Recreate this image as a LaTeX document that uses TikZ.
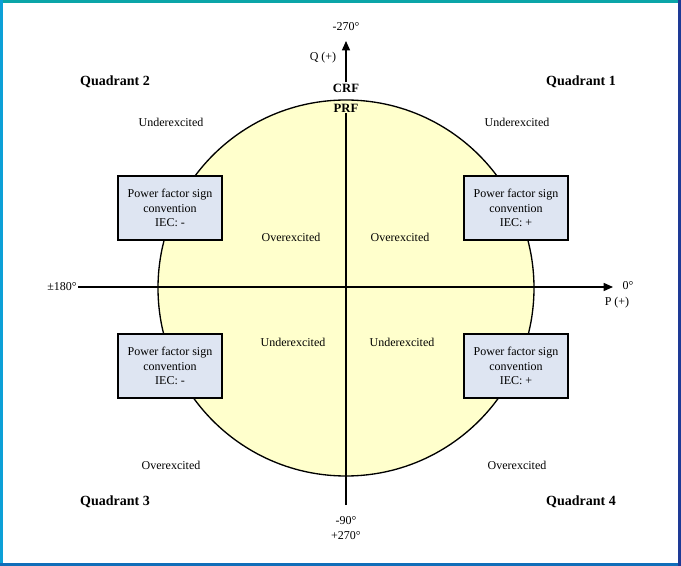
\documentclass[tikz,border=0pt]{standalone}
\usepackage{fontspec}
\setmainfont{Liberation Serif}
\usepackage{xcolor}
\usetikzlibrary{positioning, arrows.meta}

\definecolor{circfill}{RGB}{255,255,204}
\definecolor{boxfill}{RGB}{222,229,242}
\definecolor{frametop}{RGB}{10,165,168}
\definecolor{frameleft}{RGB}{12,160,215}
\definecolor{frameright}{RGB}{30,58,150}
\definecolor{framebot}{RGB}{16,110,185}

\tikzset{
  pfbox/.style={draw, fill=boxfill, line width=1pt, minimum width=104*0.75pt,
    minimum height=64*0.75pt, align=center, inner sep=1pt},
  quadlbl/.style={font=\fontsize{10.5}{12}\selectfont\bfseries},
  reflbl/.style={font=\fontsize{9.5}{11}\selectfont\bfseries},
  lbl/.style={inner sep=0.75pt, align=center},
  axis/.style={line width=1pt, -{Triangle[length=7pt, width=6pt]}}
}

\begin{document}
\begin{tikzpicture}[x=0.75pt,y=0.75pt,yscale=-1,xscale=1,font=\fontsize{9}{11}\selectfont]
\useasboundingbox (0,0) rectangle (681,566);

%Frame
\draw [frametop, line width=3pt] (0,1) -- (681,1) ;
\draw [frameleft, line width=3pt] (1,0) -- (1,566) ;
\draw [framebot, line width=3pt] (0,565) -- (681,565) ;
\draw [frameright, line width=3pt] (680,0) -- (680,566) ;

%Shape: Circle
\draw [fill=circfill, line width=1pt] (346,288) circle [radius=188] ;

%Axis ends
\coordinate (west) at (78,287) ;
\coordinate (east) at (613,287) ;
\coordinate (south) at (346,505) ;
\coordinate (north) at (346,41) ;

% Text Node
\node [lbl] (deg270) at (346,27) {-270°};
\node [lbl] (qpos) at (323,58) {Q (+)};
\node [lbl, reflbl] (crf) at (346,88) {CRF};
\node [lbl, reflbl] (prf) at (346,108) {PRF};
\node [lbl, anchor=east] (deg180) at (west) {±180°};
\node [lbl] (deg0) at (628,286) {0°};
\node [lbl] (ppos) at (617,303) {P (+)};
\node [lbl] (deg90) at (346,528) {-90°\\+270°};

%Straight Lines
\draw [axis] (west) -- (east) ;
\draw [line width=1pt] (south) -- (prf.south) ;
\draw [axis] (crf.north) -- (north) ;

% Text Node
\node [lbl, quadlbl] (q2) at (115,82) {Quadrant 2};
\node [lbl, quadlbl] (q1) at (581,82) {Quadrant 1};
\node [lbl, quadlbl] (q3) at (115,502) {Quadrant 3};
\node [lbl, quadlbl] (q4) at (581,502) {Quadrant 4};

% Text Node
\node [lbl] (ue2) at (171,122) {Underexcited};
\node [lbl] (ue1) at (517,122) {Underexcited};
\node [lbl] (oe2) at (291,237) {Overexcited};
\node [lbl] (oe1) at (400,237) {Overexcited};
\node [lbl] (ue3) at (293,342) {Underexcited};
\node [lbl] (ue4) at (402,342) {Underexcited};
\node [lbl] (oe3) at (171,465) {Overexcited};
\node [lbl] (oe4) at (517,465) {Overexcited};

%Shape: Rectangle
\node [pfbox] (pf2) at (170,208) {Power factor sign\\convention\\IEC: -};
\node [pfbox] (pf1) at (516,208) {Power factor sign\\convention\\IEC: +};
\node [pfbox] (pf3) at (170,366) {Power factor sign\\convention\\IEC: -};
\node [pfbox] (pf4) at (516,366) {Power factor sign\\convention\\IEC: +};

\end{tikzpicture}
\end{document}
